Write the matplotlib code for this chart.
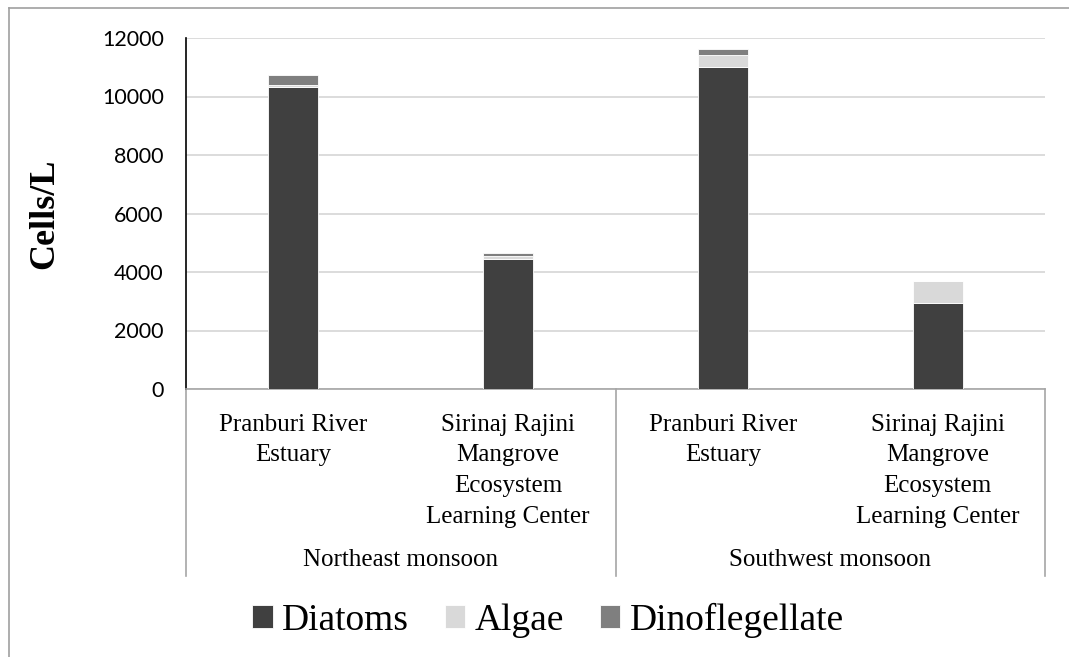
import numpy as np
import matplotlib.pyplot as plt
from matplotlib.lines import Line2D

# Data
sites = ['Pranburi River\nEstuary', 'Sirinaj Rajini\nMangrove\nEcosystem\nLearning Center',
         'Pranburi River\nEstuary', 'Sirinaj Rajini\nMangrove\nEcosystem\nLearning Center']
seasons = ['Northeast monsoon', 'Southwest monsoon']
diatoms = [10340, 4450, 11000, 2940]
algae = [40, 90, 420, 750]
dinoflagellate = [350, 110, 200, 0]

colors = ['#404040', '#d9d9d9', '#7f7f7f']
serif = 'Liberation Serif'

fig = plt.figure(figsize=(10.69, 6.57), dpi=100)
ax = fig.add_axes([186 / 1069, 1 - 389 / 657, 859 / 1069, 351 / 657])

x = np.arange(len(sites))
w = 0.233
bottom = np.zeros(len(sites))
for vals, c, name in zip([diatoms, algae, dinoflagellate], colors,
                         ['Diatoms', 'Algae', 'Dinoflegellate']):
    ax.bar(x, vals, w, bottom=bottom, color=c, edgecolor='white', linewidth=0.6,
           label=name, zorder=3)
    bottom += np.array(vals)

ax.set_xlim(-0.5, 3.5)
ax.set_ylim(0, 12000)
ax.set_yticks(range(0, 12001, 2000))
ax.yaxis.grid(True, color='#d9d9d9', linewidth=1.3, zorder=0)
ax.set_axisbelow(True)
for s in ['top', 'right']:
    ax.spines[s].set_visible(False)
ax.spines['left'].set_color('black')
ax.spines['left'].set_linewidth(1.2)
ax.spines['bottom'].set_color('#a6a6a6')
ax.spines['bottom'].set_linewidth(1.2)
ax.tick_params(axis='y', length=0, labelsize=15.5, pad=16)
ax.tick_params(axis='x', length=0, labelbottom=False)
for lab in ax.get_yticklabels():
    lab.set_fontfamily('Lato')

ax.set_ylabel('Cells/L', fontsize=26, fontweight='bold', family=serif, labelpad=29)

# multi-level category axis
trans = ax.get_xaxis_transform()
box_bottom = -(576 - 389) / 351
for xv in [-0.5, 1.5, 3.5]:
    ax.add_line(Line2D([xv, xv], [0, box_bottom], transform=trans, color='#a6a6a6',
                       linewidth=1.2, clip_on=False))
for xi, lab in zip(x, sites):
    ax.text(xi, -(414 - 389) / 351, lab, transform=trans, ha='center', va='top', fontsize=18,
            family=serif, linespacing=1.5)
for gi, lab in enumerate(seasons):
    ax.text(gi * 2 + 0.5, -(560 - 389) / 351, lab, transform=trans, ha='center',
            va='center', fontsize=18, family=serif)

# figure border (top and left only)
fig.add_artist(Line2D([9 / 1069, 1], [1 - 8 / 657, 1 - 8 / 657], color='#a0a0a0', linewidth=1.2))
fig.add_artist(Line2D([9 / 1069, 9 / 1069], [0, 1 - 8 / 657], color='#a0a0a0', linewidth=1.2))

fig.legend(loc='center', bbox_to_anchor=(548 / 1069, 1 - 620 / 657), ncol=3, frameon=False,
           prop={'family': serif, 'size': 27}, handlelength=0.55, handleheight=0.55,
           handletextpad=0.25, columnspacing=0.95)

plt.savefig('out.png', dpi=100)
